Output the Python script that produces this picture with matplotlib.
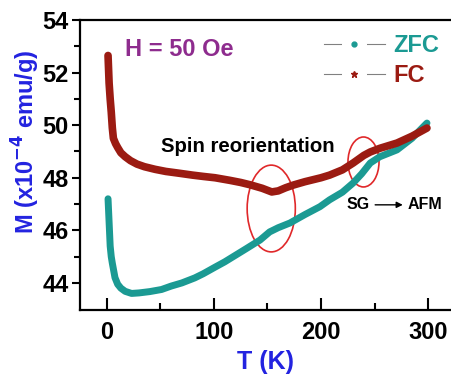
import numpy as np
import matplotlib
matplotlib.use('Agg')
import matplotlib.pyplot as plt
from matplotlib.lines import Line2D
from matplotlib.patches import Ellipse

plt.rcParams['font.family'] = ['Liberation Sans', 'DejaVu Sans']
plt.rcParams['font.weight'] = 'bold'
plt.rcParams['mathtext.default'] = 'bf'

# FC curve (T in K, M in 1e-4 emu/g)
fc_T = [1, 2, 3, 4, 5, 6, 8, 10, 13, 17, 22, 28, 35, 45, 55, 66, 80, 90, 101,
        115, 125, 134, 145, 154, 160, 167, 174, 185, 200, 208, 220, 230, 240,
        246, 255, 271, 285, 299]
fc_M = [52.65, 51.6, 51.0, 50.5, 49.9, 49.5, 49.3, 49.15, 48.95, 48.8, 48.65,
        48.52, 48.42, 48.32, 48.24, 48.18, 48.1, 48.05, 48.0, 47.9, 47.82,
        47.73, 47.6, 47.46, 47.5, 47.62, 47.72, 47.85, 48.0, 48.1, 48.3,
        48.56, 48.85, 48.98, 49.12, 49.32, 49.58, 49.89]

# ZFC curve
zfc_T = [1, 2, 3, 4, 5, 7.5, 10, 13, 17, 23, 30, 40, 51, 60, 70, 82, 90, 101,
         110, 118, 130, 143, 152, 160, 171, 185, 199, 208, 220, 230, 238, 246,
         255, 271, 285, 299]
zfc_M = [47.2, 46.3, 45.4, 45.0, 44.75, 44.2, 43.95, 43.8, 43.68, 43.6, 43.62,
         43.67, 43.75, 43.88, 44.0, 44.19, 44.35, 44.6, 44.8, 45.0, 45.3,
         45.63, 45.94, 46.1, 46.28, 46.6, 46.9, 47.16, 47.45, 47.8, 48.15,
         48.56, 48.8, 49.06, 49.5, 50.08]

teal = '#1B9A93'
red = '#9B1B12'
blue = '#2323E0'
purple = '#8E2C8E'

fig = plt.figure(figsize=(4.52, 3.79), dpi=100)
ax = fig.add_axes([80/452, 69/379, 1 - 80/452, 290/379])

ax.plot(zfc_T, zfc_M, color=teal, lw=5, solid_capstyle='round')
ax.plot(fc_T, fc_M, color=red, lw=5.5, solid_capstyle='round')

ax.set_xlim(-25.2, 322.4)
ax.set_ylim(42.97, 54)
ax.set_xticks([0, 100, 200, 300])
ax.set_xticks([50, 150, 250], minor=True)
ax.set_yticks([44, 46, 48, 50, 52, 54])
ax.set_yticks([45, 47, 49, 51, 53], minor=True)
ax.tick_params(axis='x', which='major', direction='in', length=9, width=1.5, labelsize=17, pad=8)
ax.tick_params(axis='x', which='minor', direction='in', length=5, width=1.5)
ax.tick_params(axis='y', which='major', direction='out', length=6, width=1.5, labelsize=17, pad=2)
ax.tick_params(axis='y', which='minor', direction='out', length=4, width=1.5)
ax.spines['right'].set_visible(False)
for s in ['left', 'bottom', 'top']:
    ax.spines[s].set_linewidth(1.6)

ax.set_xlabel('T (K)', color=blue, fontsize=18, fontweight='bold', labelpad=4)
ax.set_ylabel(r'M (x10$^{-4}$ emu/g)', color=blue, fontsize=17, fontweight='bold')
ax.yaxis.set_label_coords(-0.102, 0.579)

ax.text(17, 52.86, 'H = 50 Oe', color=purple, fontsize=17, fontweight='bold', va='center')
ax.text(132, 49.17, 'Spin reorientation', color='black', fontsize=14.7, fontweight='bold',
        ha='center', va='center')
ax.text(235, 46.97, 'SG', fontsize=11.5, fontweight='bold', ha='center', va='center')
ax.text(280.5, 46.97, 'AFM', fontsize=11.5, fontweight='bold', ha='left', va='center')
ax.annotate('', xy=(279, 46.97), xytext=(248, 46.97),
            arrowprops=dict(arrowstyle='-|>', color='black', lw=1, mutation_scale=9))

ax.add_patch(Ellipse((153.5, 46.83), 45, 3.3, fill=False, edgecolor='#E0282A', lw=1.2))
ax.add_patch(Ellipse((239.7, 48.6), 29, 1.9, fill=False, edgecolor='#E0282A', lw=1.2))

# legend: grey line broken by a white circle, small coloured marker on top
gap = dict(color='0.5', lw=0.8, marker='o', markersize=17, mfc='white', mec='white')
handles = [(Line2D([], [], **gap),
            Line2D([], [], ls='none', marker='o', markersize=3.5, mfc=teal, mec=teal)),
           (Line2D([], [], **gap),
            Line2D([], [], ls='none', marker='*', markersize=5, mfc=red, mec=red))]
leg = ax.legend(handles, ['ZFC', 'FC'], loc='upper right', bbox_to_anchor=(0.997, 0.992),
                frameon=False, prop={'size': 17, 'weight': 'bold'}, handlelength=2.6,
                handletextpad=0.35, labelspacing=0.3, borderpad=0, numpoints=1)
for t, c in zip(leg.get_texts(), [teal, red]):
    t.set_color(c)

fig.savefig('out.png', dpi=100)
